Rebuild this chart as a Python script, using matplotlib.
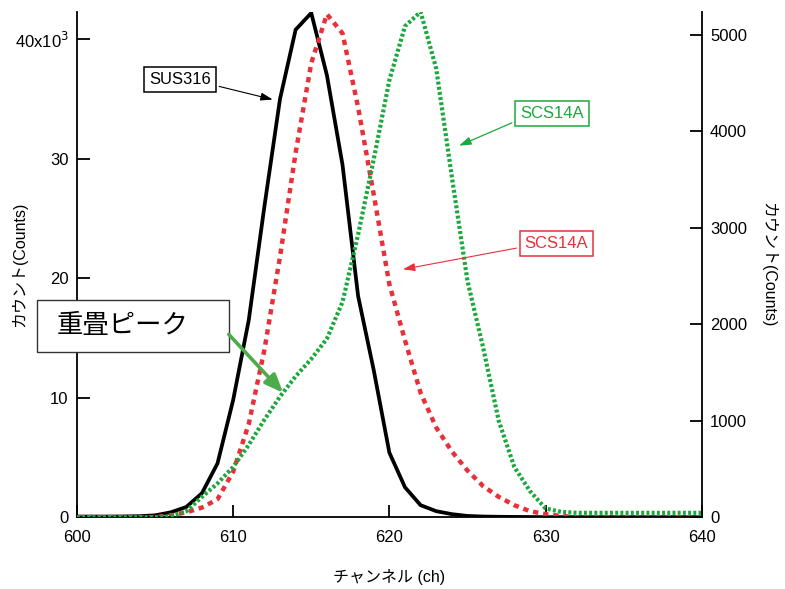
"""Overlapping peaks: SUS316 vs SCS14A channel spectra."""

import matplotlib as mpl
import matplotlib.pyplot as plt
from matplotlib.patches import Rectangle

mpl.use("Agg")

plt.rcParams["font.family"] = ["Liberation Sans", "Noto Sans CJK JP", "DejaVu Sans"]

# ── Data ───────────────────────────────────────────────────────────────────
channels = list(range(600, 641))

# SUS316, left axis (counts)
sus316 = [50, 50, 50, 60, 80, 150, 400, 850, 2000, 4500, 9800, 16500, 26000,
          35000, 40800, 42200, 37000, 29500, 18500, 12300, 5400, 2500, 1000,
          500, 250, 100, 50, 30, 20, 10, 0, 0, 0, 0, 0, 0, 0, 0, 0, 0, 0]

# SCS14A (red), left axis (counts)
scs14a_red = [0, 0, 0, 0, 0, 0, 150, 400, 800, 1500, 3800, 7800, 14000,
              21800, 30500, 38000, 42100, 40500, 34300, 27000, 19500, 14800,
              10400, 7500, 5500, 3900, 2600, 1700, 1000, 500, 250, 100, 0, 0,
              0, 0, 0, 0, 0, 0, 0]

# SCS14A (green), right axis (counts)
scs14a_green = [0, 0, 0, 0, 0, 0, 10, 60, 210, 350, 520, 750, 1010, 1250,
                1460, 1640, 1850, 2230, 2930, 3710, 4530, 5090, 5240, 4650,
                3530, 2450, 1760, 1000, 520, 270, 90, 55, 45, 45, 45, 45, 45,
                45, 45, 45, 45]

left_ticks = [0, 10000, 20000, 30000, 40000]
left_labels = ["0", "10", "20", "30", "40x10$^3$"]
right_ticks = [0, 1000, 2000, 3000, 4000, 5000]
x_ticks = [600, 610, 620, 630, 640]

RED = "#e8303a"
GREEN = "#19a83c"
ARROW_GREEN = "#4cab4a"

fig = plt.figure(figsize=(7.85, 5.89), dpi=100)
ax = fig.add_axes([0.098, 0.122, 0.796, 0.858])
ax2 = ax.twinx()

ax.plot(channels, sus316, color="black", linewidth=2.7, solid_joinstyle="miter")
ax.plot(channels, scs14a_red, color=RED, linewidth=3.2, linestyle=(0, (1.2, 1.1)))
ax2.plot(channels, scs14a_green, color=GREEN, linewidth=3.0, linestyle=(0, (0.7, 0.55)))

ax.set_xlim(600, 640)
ax.set_ylim(0, 42300)
ax2.set_ylim(0, 5240)

ax.set_xticks(x_ticks)
ax.set_yticks(left_ticks)
ax.set_yticklabels(left_labels)
ax2.set_yticks(right_ticks)

for a in (ax, ax2):
    a.spines["top"].set_visible(False)
    for s in ("left", "bottom", "right"):
        a.spines[s].set_linewidth(1.3)
    a.tick_params(direction="in", length=9, width=1.3, labelsize=12, pad=6)
ax.tick_params(axis="x", pad=9)
ax.spines["right"].set_visible(False)
ax2.spines["left"].set_visible(False)
ax2.spines["bottom"].set_visible(False)

ax.set_xlabel("チャンネル (ch)", fontsize=11.5)
ax.xaxis.set_label_coords(0.5, -0.103)
ax.set_ylabel("カウント(Counts)", fontsize=11.5)
ax.yaxis.set_label_coords(-0.08, 0.5)
ax2.set_ylabel("カウント(Counts)", fontsize=11.5, rotation=270, va="center")
ax2.yaxis.set_label_coords(1.106, 0.5)

# ── Annotations ────────────────────────────────────────────────────────────
ax2.annotate(
    "SUS316", xy=(612.7, 34900), xycoords=ax.transData,
    xytext=(606.6, 36600), textcoords=ax.transData,
    fontsize=12, ha="center", va="center",
    bbox=dict(boxstyle="square,pad=0.3", fc="white", ec="black", lw=1.1),
    arrowprops=dict(arrowstyle="-|>,head_length=0.6,head_width=0.2",
                    color="black", lw=0.8, relpos=(1, 0.2)),
)
ax2.annotate(
    "SCS14A", xy=(624.3, 31000), xycoords=ax.transData,
    xytext=(630.4, 33800), textcoords=ax.transData,
    fontsize=12, ha="center", va="center", color=GREEN,
    bbox=dict(boxstyle="square,pad=0.3", fc="white", ec=GREEN, lw=1.1),
    arrowprops=dict(arrowstyle="-|>,head_length=0.6,head_width=0.2",
                    color=GREEN, lw=0.9, relpos=(0, 0.1)),
)
ax2.annotate(
    "SCS14A", xy=(620.7, 20700), xycoords=ax.transData,
    xytext=(630.7, 22900), textcoords=ax.transData,
    fontsize=12, ha="center", va="center", color=RED,
    bbox=dict(boxstyle="square,pad=0.3", fc="white", ec=RED, lw=1.1),
    arrowprops=dict(arrowstyle="-|>,head_length=0.6,head_width=0.2",
                    color=RED, lw=0.8, relpos=(0, 0.3)),
)

# big "overlapping peak" callout
box = Rectangle((597.44, 13800), 12.28, 4360, transform=ax.transData,
                fc="white", ec="#333333", lw=1.0, clip_on=False, zorder=10)
ax2.add_patch(box)
ax2.text(602.95, 16000, "重畳ピーク", transform=ax.transData, fontsize=19,
         ha="center", va="center", zorder=11, clip_on=False,
         family=["Noto Sans CJK JP"])
ax2.annotate(
    "", xy=(613.2, 10400), xycoords=ax.transData,
    xytext=(609.72, 15300), textcoords=ax.transData,
    arrowprops=dict(arrowstyle="-|>,head_length=1.1,head_width=0.45",
                    color=ARROW_GREEN, lw=2.6, shrinkA=0, shrinkB=0),
    zorder=12,
)

fig.savefig("out.png", dpi=100)
plt.close(fig)
